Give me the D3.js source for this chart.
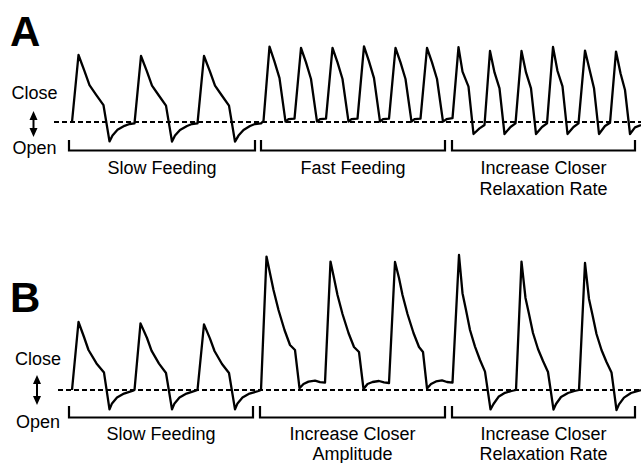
<!DOCTYPE html>
<html>
<head>
<meta charset="utf-8">
<script src="https://cdn.jsdelivr.net/npm/d3@7"></script>
<style>
  body { margin: 0; background: #fff; }
  text { font-family: "Liberation Sans", Arial, Helvetica, sans-serif; fill: #000; }
</style>
</head>
<body>
<div id="main"></div>
<script>
/// data: time (s) and closer position (a.u., 0 = resting baseline) ///

// panel A
const slowA = [
  [0,0],[0.13,3.35],[0.25,2.54],[0.35,1.84],[0.48,1.37],[0.63,0.84],[0.75,-0.97],[0.81,-0.67],[0.91,-0.39],[1.05,-0.19],[1.15,-0.10],[1.25,-0.07],
  [1.38,3.30],[1.50,2.52],[1.60,1.82],[1.73,1.35],[1.88,0.82],[2.00,-0.98],[2.06,-0.68],[2.16,-0.40],[2.30,-0.20],[2.40,-0.10],[2.51,-0.07],
  [2.64,3.30],[2.76,2.52],[2.86,1.82],[2.99,1.35],[3.14,0.82],[3.26,-0.98],[3.33,-0.68],[3.43,-0.40],[3.56,-0.20],[3.66,-0.10],[3.78,-0.07]
];
const fastA = [
  [3.83,0.05],[3.95,3.77],[4.05,3.02],[4.15,2.19],[4.27,0.02],[4.33,0.14],[4.45,0.17],
  [4.58,3.70],[4.68,2.98],[4.78,2.15],[4.90,0.02],[4.96,0.14],[5.08,0.17],
  [5.21,3.70],[5.31,2.98],[5.41,2.15],[5.53,0.02],[5.59,0.14],[5.71,0.17],
  [5.84,3.78],[5.94,3.03],[6.04,2.19],[6.16,0.02],[6.22,0.14],[6.34,0.17],
  [6.47,3.70],[6.57,2.98],[6.67,2.15],[6.79,0.02],[6.85,0.14],[6.97,0.17],
  [7.10,3.70],[7.20,2.98],[7.30,2.15],[7.42,0.02],[7.49,0.14],[7.61,0.19]
];
const relaxA = [
  [7.73,3.74],[7.81,2.52],[7.93,1.77],[8.03,-0.60],[8.15,-0.32],[8.25,-0.15],
  [8.36,3.55],[8.45,2.48],[8.55,1.68],[8.65,-0.60],[8.77,-0.25],[8.87,-0.07],
  [8.99,3.55],[9.08,2.48],[9.18,1.68],[9.28,-0.60],[9.40,-0.25],[9.50,-0.07],
  [9.62,3.75],[9.71,2.55],[9.81,1.78],[9.91,-0.60],[10.03,-0.25],[10.13,-0.07],
  [10.26,3.57],[10.36,2.52],[10.44,1.69],[10.54,-0.60],[10.66,-0.20],[10.76,-0.04],
  [10.88,3.52],[10.97,2.44],[11.06,1.60],[11.16,-0.60],[11.26,-0.27],[11.38,-0.15]
];
const bracketsA = [[-0.06, 3.66], [3.78, 7.46], [7.60, 11.26]];
const labelsA = [['Slow Feeding'], ['Fast Feeding'], ['Increase Closer', 'Relaxation Rate']];

// panel B
const slowB = [
  [0,0],[0.13,3.40],[0.24,2.65],[0.33,2.00],[0.49,1.33],[0.64,0.87],[0.75,-0.97],[0.80,-0.67],[0.90,-0.38],[1.04,-0.18],[1.22,-0.03],
  [1.25,0],[1.37,3.33],[1.50,2.60],[1.59,1.97],[1.74,1.32],[1.88,0.85],[2.00,-0.97],[2.05,-0.67],[2.15,-0.38],[2.29,-0.18],[2.47,-0.03],
  [2.51,0],[2.64,3.28],[2.76,2.57],[2.85,1.95],[3.00,1.30],[3.14,0.85],[3.26,-0.97],[3.31,-0.67],[3.41,-0.38],[3.55,-0.18],[3.73,-0.05],[3.78,0]
];
const ampB = [
  [3.89,6.67],[3.96,5.84],[4.03,5.00],[4.13,4.00],[4.25,3.00],[4.36,2.25],[4.46,2.00],[4.55,0.09],[4.63,0.30],[4.73,0.42],[4.86,0.47],[4.96,0.39],[5.06,0.37],
  [5.17,6.42],[5.24,5.60],[5.31,4.75],[5.41,3.80],[5.53,2.85],[5.64,2.15],[5.74,1.90],[5.83,0.05],[5.91,0.30],[6.01,0.40],[6.14,0.45],[6.24,0.38],[6.34,0.35],
  [6.46,6.40],[6.54,5.60],[6.61,4.75],[6.71,3.80],[6.83,2.85],[6.94,2.15],[7.02,1.90],[7.10,0.08],[7.18,0.30],[7.28,0.43],[7.40,0.48],[7.50,0.40],[7.61,0.37]
];
const relaxB = [
  [7.74,6.75],[7.81,4.84],[7.88,4.00],[7.96,3.00],[8.06,2.17],[8.16,1.50],[8.26,0.92],[8.37,-0.97],[8.43,-0.70],[8.53,-0.34],[8.66,-0.14],[8.79,-0.05],[8.88,0],
  [8.99,6.42],[9.07,4.60],[9.14,3.80],[9.22,2.85],[9.32,2.05],[9.42,1.45],[9.52,0.90],[9.63,-0.98],[9.68,-0.70],[9.78,-0.35],[9.92,-0.15],[10.05,-0.05],[10.14,0],
  [10.26,6.35],[10.34,4.55],[10.41,3.75],[10.49,2.80],[10.59,2.00],[10.69,1.40],[10.79,0.88],[10.89,-1.00],[10.94,-0.72],[11.04,-0.38],[11.18,-0.15],[11.38,0]
];
const bracketsB = [[-0.06, 3.62], [3.76, 7.46], [7.60, 11.26]];
const labelsB = [['Slow Feeding'], ['Increase Closer', 'Amplitude'], ['Increase Closer', 'Relaxation Rate']];

const axisLabels = ['Close', 'Open'];

/// layout ///
const w = 641, h = 463;

const svg = d3.select('#main')
    .append('svg')
    .attr('width', w)
    .attr('height', h);

// shared time scale, 50 px per second
const xScale = d3.scaleLinear()
    .domain([0, 11.4])
    .range([72, 642]);

const panels = [
  { letter: 'A', trace: slowA.concat(fastA, relaxA), brackets: bracketsA, labels: labelsA,
    base: 122, dashFrom: -0.36, letterY: 46, textX: 34.5, closeY: 99, openY: 154,
    arrowTop: 111, arrowBot: 137, tickTop: 140, bracketY: 150.5, labelY: 174, lineGap: 21 },
  { letter: 'B', trace: slowB.concat(ampB, relaxB), brackets: bracketsB, labels: labelsB,
    base: 390, dashFrom: -0.28, letterY: 312, textX: 38, closeY: 365, openY: 427.5,
    arrowTop: 375, arrowBot: 405, tickTop: 406, bracketY: 417.5, labelY: 439.5, lineGap: 20 }
];

panels.forEach(p => {

    // 20 px per unit of closer position
    let yScale = d3.scaleLinear()
        .domain([0, 1])
        .range([p.base, p.base - 20]);

    let g = svg.append('g');

    // panel letter
    g.append('text')
        .attr('x', 10)
        .attr('y', p.letterY)
        .style('font-size', '42px')
        .style('font-weight', 'bold')
        .text(p.letter);

    // Close / Open labels with double arrow
    g.append('text')
        .attr('x', p.textX)
        .attr('y', p.closeY)
        .style('font-size', '18px')
        .style('text-anchor', 'middle')
        .text(axisLabels[0]);

    g.append('text')
        .attr('x', p.textX)
        .attr('y', p.openY)
        .style('font-size', '18px')
        .style('text-anchor', 'middle')
        .text(axisLabels[1]);

    let ax = p.textX - 1;
    g.append('line')
        .attr('x1', ax).attr('x2', ax)
        .attr('y1', p.arrowTop + 4).attr('y2', p.arrowBot - 4)
        .attr('stroke', '#000')
        .attr('stroke-width', 2);

    g.append('path')
        .attr('d', `M${ax},${p.arrowTop}L${ax - 4},${p.arrowTop + 9}L${ax + 4},${p.arrowTop + 9}Z` +
                   `M${ax},${p.arrowBot}L${ax - 4},${p.arrowBot - 9}L${ax + 4},${p.arrowBot - 9}Z`)
        .attr('fill', '#000');

    // dashed baseline
    g.append('line')
        .attr('x1', xScale(p.dashFrom))
        .attr('x2', xScale(11.4))
        .attr('y1', yScale(0))
        .attr('y2', yScale(0))
        .attr('stroke', '#000')
        .attr('stroke-width', 2)
        .attr('stroke-dasharray', '5,3');

    // trace
    let line = d3.line()
        .x(d => xScale(d[0]))
        .y(d => yScale(d[1]));

    g.append('path')
        .datum(p.trace)
        .attr('d', line)
        .attr('fill', 'none')
        .attr('stroke', '#000')
        .attr('stroke-width', 2.3)
        .attr('stroke-linejoin', 'round');

    // brackets under each phase
    g.selectAll('.bracket')
        .data(p.brackets)
        .enter()
        .append('path')
        .attr('class', 'bracket')
        .attr('d', d => `M${xScale(d[0])},${p.tickTop}V${p.bracketY}H${xScale(d[1])}V${p.tickTop}`)
        .attr('fill', 'none')
        .attr('stroke', '#000')
        .attr('stroke-width', 2.2);

    // phase labels
    p.labels.forEach((lines, i) => {
        let cx = (xScale(p.brackets[i][0]) + xScale(p.brackets[i][1])) / 2;
        lines.forEach((s, j) => {
            g.append('text')
                .attr('x', cx)
                .attr('y', p.labelY + j * p.lineGap)
                .style('font-size', '18px')
                .style('text-anchor', 'middle')
                .text(s);
        });
    });
});
</script>
</body>
</html>
